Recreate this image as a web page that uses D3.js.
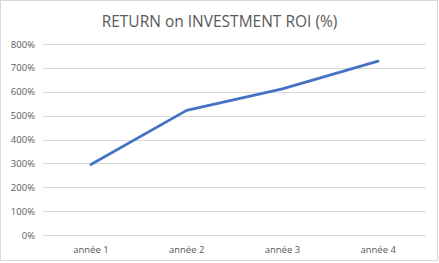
<!DOCTYPE html>
<html>
<head>
<meta charset="utf-8">
<script src="https://cdn.jsdelivr.net/npm/d3@7"></script>
<style>
body { margin: 0; background: #fff; }
text { font-family: "Open Sans", "Liberation Sans", sans-serif; fill: #595959; }
</style>
</head>
<body>
<script>
var years = ["année 1", "année 2", "année 3", "année 4"];
var roi = [2.95, 5.22, 6.12, 7.28];
var yTicks = [0, 1, 2, 3, 4, 5, 6, 7, 8];

//chart frame
var width = 439,
    height = 263;

var svg = d3.select("body")
    .append("svg")
    .attr("width", width)
    .attr("height", height);

//outer border
svg.append("rect")
    .attr("x", 0.5).attr("y", 0.5)
    .attr("width", width - 2).attr("height", height - 3)
    .attr("fill", "#fff")
    .attr("stroke", "#d9d9d9");

var margin = {left: 43, right: 13, top: 44, bottom: 28};

var x = d3.scaleBand()
    .domain(years)
    .range([margin.left, width - margin.right]);

var y = d3.scaleLinear()
    .domain([0, 8])
    .range([height - margin.bottom, margin.top]);

//title
svg.append("text")
    .attr("x", width / 2)
    .attr("y", 27)
    .attr("text-anchor", "middle")
    .style("font-size", "15.5px")
    .text("RETURN on INVESTMENT ROI (%)");

//gridlines
svg.selectAll(".grid")
    .data(yTicks)
    .enter()
    .append("line")
    .attr("class", "grid")
    .attr("x1", margin.left)
    .attr("x2", width - margin.right)
    .attr("y1", function(d){ return Math.round(y(d)) + 0.5; })
    .attr("y2", function(d){ return Math.round(y(d)) + 0.5; })
    .attr("stroke", "#d9d9d9")
    .attr("stroke-width", 1);

//y axis labels
var yAxis = d3.axisLeft(y)
    .tickValues(yTicks)
    .tickFormat(function(d){ return (d * 100) + "%"; })
    .tickSize(0)
    .tickPadding(8);

svg.append("g")
    .attr("transform", "translate(" + margin.left + ",0)")
    .call(yAxis)
    .call(function(g){ g.select(".domain").remove(); })
    .selectAll("text")
    .style("font-size", "9.5px")
    .attr("fill", "#595959");

//x axis labels
var xAxis = d3.axisBottom(x)
    .tickSize(0)
    .tickPadding(11);

svg.append("g")
    .attr("transform", "translate(0," + y(0) + ")")
    .call(xAxis)
    .call(function(g){ g.select(".domain").remove(); })
    .selectAll("text")
    .style("font-size", "9.5px")
    .attr("fill", "#595959");

//the line
var line = d3.line()
    .x(function(d, i){ return x(years[i]) + x.bandwidth() / 2; })
    .y(function(d){ return y(d); });

svg.append("path")
    .datum(roi)
    .attr("d", line)
    .attr("fill", "none")
    .attr("stroke", "#4472c4")
    .attr("stroke-width", 2.75)
    .attr("stroke-linecap", "round")
    .attr("stroke-linejoin", "round");
</script>
</body>
</html>
